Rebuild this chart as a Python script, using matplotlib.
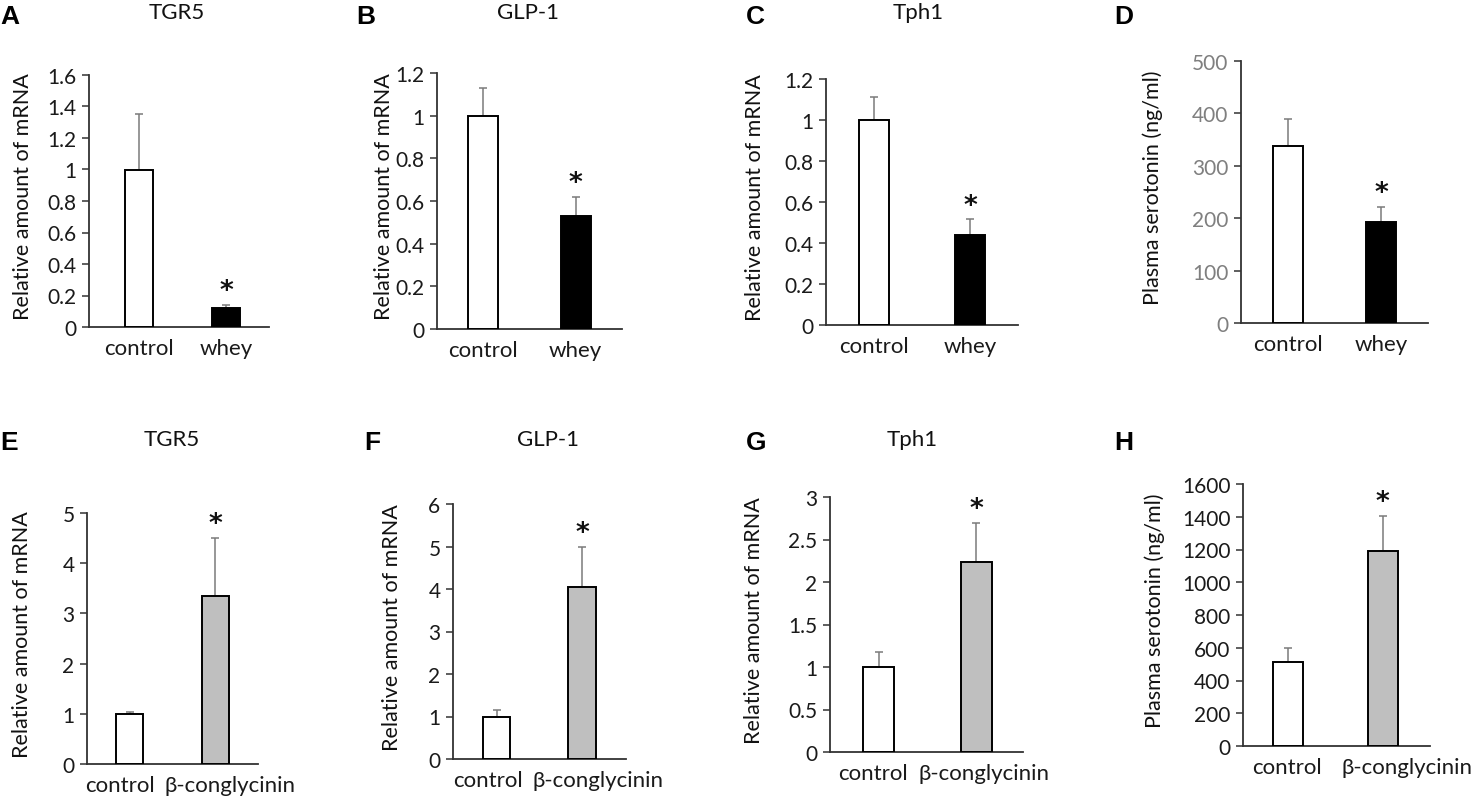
import matplotlib
matplotlib.use("Agg")
import matplotlib.pyplot as plt
from matplotlib.ticker import FuncFormatter, MultipleLocator

# ---------------- data ----------------
categories_whey = ["control", "whey"]
categories_bc = ["control", "β-conglycinin"]

tgr5_whey = [1.0, 0.12]
tgr5_whey_err = [0.35, 0.022]
glp1_whey = [1.0, 0.53]
glp1_whey_err = [0.13, 0.09]
tph1_whey = [1.0, 0.44]
tph1_whey_err = [0.11, 0.075]
serotonin_whey = [338, 193]
serotonin_whey_err = [51, 29]

tgr5_bc = [1.0, 3.35]
tgr5_bc_err = [0.04, 1.15]
glp1_bc = [1.0, 4.05]
glp1_bc_err = [0.16, 0.95]
tph1_bc = [1.0, 2.24]
tph1_bc_err = [0.18, 0.45]
serotonin_bc = [515, 1190]
serotonin_bc_err = [85, 217]

panel_letters = ["A", "B", "C", "D", "E", "F", "G", "H"]
titles = ["TGR5", "GLP-1", "Tph1", "", "TGR5", "GLP-1", "Tph1", ""]
mrna_label = "Relative amount of mRNA"
serotonin_label = "Plasma serotonin (ng/ml)"

# ---------------- layout ----------------
W, H = 1476, 804
plt.rcParams['font.family'] = ['Lato', 'DejaVu Sans']
fig = plt.figure(figsize=(W / 100, H / 100), dpi=100)

# box = (left px, right px, top px, bottom px); lab = x positions of category labels
panels = [
    dict(box=(89, 269, 76, 328), ymax=1.6, step=0.2, xlim=(-0.575, 1.494), lab=(0, 1),
         vals=tgr5_whey, errs=tgr5_whey_err, cats=categories_whey, color="black",
         ylabel=mrna_label, ylab_x=23, letter_xy=(0, 17), title_xy=(177, 13)),
    dict(box=(437, 622, 74, 330), ymax=1.2, step=0.2, xlim=(-0.5, 1.5), lab=(0, 1),
         vals=glp1_whey, errs=glp1_whey_err, cats=categories_whey, color="black",
         ylabel=mrna_label, ylab_x=384, letter_xy=(356, 17), title_xy=(528, 13)),
    dict(box=(826, 1018, 80, 326), ymax=1.2, step=0.2, xlim=(-0.5, 1.5), lab=(0, 1),
         vals=tph1_whey, errs=tph1_whey_err, cats=categories_whey, color="black",
         ylabel=mrna_label, ylab_x=755, letter_xy=(746, 17), title_xy=(918, 13)),
    dict(box=(1241, 1428, 62, 324), ymax=500, step=100, xlim=(-0.5, 1.5), lab=(0, 1),
         vals=serotonin_whey, errs=serotonin_whey_err, cats=categories_whey, color="black",
         ylabel=serotonin_label, ylab_x=1153, letter_xy=(1114, 17), title_xy=None,
         tickcolor="#7f7f7f"),
    dict(box=(87, 258, 514, 765), ymax=5, step=1, xlim=(-0.5, 1.5), lab=(-0.11, 1.175),
         vals=tgr5_bc, errs=tgr5_bc_err, cats=categories_bc, color="#bfbfbf",
         ylabel=mrna_label, ylab_x=22, letter_xy=(0, 443), title_xy=(172, 440)),
    dict(box=(453, 626, 505, 760), ymax=6, step=1, xlim=(-0.51, 1.515), lab=(-0.1, 1.19),
         vals=glp1_bc, errs=glp1_bc_err, cats=categories_bc, color="#bfbfbf",
         ylabel=mrna_label, ylab_x=392, letter_xy=(364, 443), title_xy=(548, 440)),
    dict(box=(830, 1023, 498, 753), ymax=3, step=0.5, xlim=(-0.5, 1.48), lab=(-0.06, 1.08),
         vals=tph1_bc, errs=tph1_bc_err, cats=categories_bc, color="#bfbfbf",
         ylabel=mrna_label, ylab_x=754, letter_xy=(746, 443), title_xy=(912, 440)),
    dict(box=(1243, 1430, 485, 747), ymax=1600, step=200, xlim=(-0.48, 1.5), lab=(-0.02, 1.26),
         vals=serotonin_bc, errs=serotonin_bc_err, cats=categories_bc, color="#bfbfbf",
         ylabel=serotonin_label, ylab_x=1155, letter_xy=(1114, 443), title_xy=None),
]

axis_col = "#333333"
fmt = FuncFormatter(lambda v, p: f"{round(v, 6):g}")

for i, p in enumerate(panels):
    l, r, t, b = p["box"]
    ax = fig.add_axes([l / W, 1 - b / H, (r - l) / W, (b - t) / H])
    x = [0, 1]
    ax.bar(x, p["vals"], width=0.32, color=["white", p["color"]],
           edgecolor="black", linewidth=1.4, zorder=3)
    ax.errorbar(x, p["vals"], yerr=[[0, 0], p["errs"]], fmt="none",
                ecolor="#7a7a7a", elinewidth=1.1, capsize=3, capthick=1.1, zorder=2)
    ax.annotate("*", xy=(1, p["vals"][1] + p["errs"][1]), xytext=(0, 10),
                textcoords="offset points", ha="center", va="center",
                fontsize=19, fontweight="bold", color="#111111", family=["DejaVu Sans"])
    ax.set_xlim(*p["xlim"])
    ax.set_ylim(0, p["ymax"])
    ax.yaxis.set_major_locator(MultipleLocator(p["step"]))
    ax.yaxis.set_major_formatter(fmt)
    ax.set_xticks(list(p["lab"]))
    ax.set_xticklabels(p["cats"])
    for s in ["top", "right"]:
        ax.spines[s].set_visible(False)
    for s in ["left", "bottom"]:
        ax.spines[s].set_color(axis_col)
        ax.spines[s].set_linewidth(1.3)
    tc = p.get("tickcolor", "#1a1a1a")
    ax.tick_params(axis="y", direction="out", length=5, width=1.1, color=axis_col,
                   labelsize=15, labelcolor=tc, pad=4)
    ax.tick_params(axis="x", length=0, labelsize=16, labelcolor="#1a1a1a", pad=8)
    ax.set_ylabel(p["ylabel"], fontsize=15.5, color="#111111", va="center")
    ax.yaxis.set_label_coords((p["ylab_x"] - l) / (r - l), 0.52)
    ax.patch.set_alpha(0)

    lx, ly = p["letter_xy"]
    fig.text(lx / W, 1 - ly / H, panel_letters[i], fontsize=19, fontweight="bold",
             family=["Liberation Sans", "DejaVu Sans"], ha="left", va="center")
    if p["title_xy"] is not None:
        tx, ty = p["title_xy"]
        fig.text(tx / W, 1 - ty / H, titles[i], fontsize=16, ha="center",
                 va="center", color="#111111")

fig.savefig("out.png", dpi=100, facecolor="white")
